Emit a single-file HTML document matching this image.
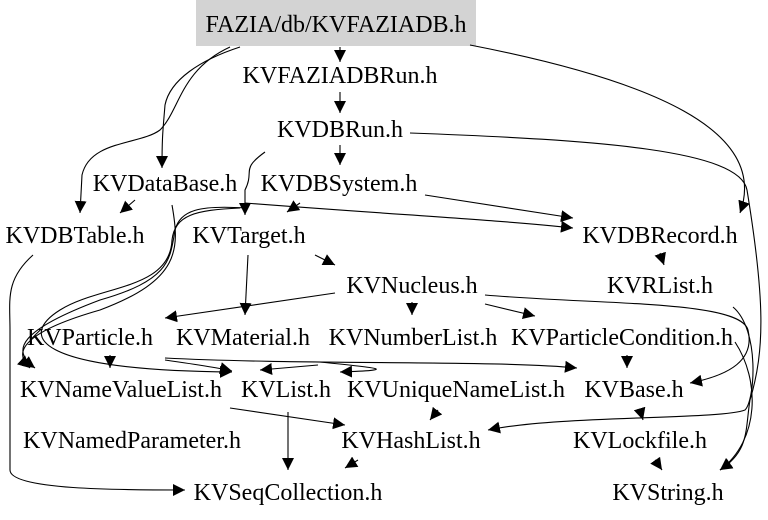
<!DOCTYPE html>
<html><head><meta charset="utf-8"><style>
html,body{margin:0;padding:0;background:#fff;}
svg{display:block;}
text{font-family:"Liberation Serif",serif;font-size:24px;fill:#000;text-anchor:middle;}
</style></head><body>
<svg width="768" height="520" viewBox="0 0 768 520" xmlns="http://www.w3.org/2000/svg">
<defs><marker id="a" viewBox="0 0 10 10" refX="10" refY="5" markerWidth="12" markerHeight="12" markerUnits="userSpaceOnUse" orient="auto"><path d="M0,0 L10,5 L0,10 z" fill="#000"/></marker></defs>
<rect x="196" y="0" width="280" height="46" fill="#d3d3d3"/>
<g fill="none" stroke="#000" stroke-width="1.1" marker-end="url(#a)">
<path d="M340,47 L340,62"/>
<path d="M240,47 C200,60 170,80 165,105 C163,130 162,135 162,168"/>
<path d="M230,47 C180,70 180,110 160,130 C140,145 90,140 82,175 L80,213"/>
<path d="M470,45 C650,80 770,130 740,213"/>
<path d="M340,92 L340,113"/>
<path d="M340,145 L340,165"/>
<path d="M265,152 C240,170 255,170 245,190 L245,215"/>
<path d="M410,133 C600,140 740,150 747,190 C765,300 765,350 750,400 C745,430 750,450 720,470"/>
<path d="M135,200 L120,213"/>
<path d="M300,203 L287,212"/>
<path d="M425,195 L573,218"/>
<path d="M245,203 C400,215 500,220 573,228"/>
<path d="M248,255 L245,315"/>
<path d="M315,255 L335,265"/>
<path d="M335,293 L165,318"/>
<path d="M412,302 L412,315"/>
<path d="M485,304 L535,316"/>
<path d="M485,295 C600,305 740,300 748,330 C755,360 730,375 690,383"/>
<path d="M733,307 C760,330 755,400 745,410 C720,420 560,415 488,430"/>
<path d="M627,355 L627,368"/>
<path d="M110,355 L110,368"/>
<path d="M165,360 C200,365 220,368 232,371"/>
<path d="M165,358 C300,365 500,360 577,368"/>
<path d="M318,365 L260,370"/>
<path d="M320,362 C380,368 400,370 340,372"/>
<path d="M230,408 L345,425"/>
<path d="M288,412 L288,470"/>
<path d="M438,410 L430,420"/>
<path d="M358,460 L345,468"/>
<path d="M640,410 L643,420"/>
<path d="M655,460 L662,470"/>
<path d="M33,255 C5,280 10,300 10,330 L10,470 C10,490 120,490 185,490"/>
<path d="M660,253 L664,265"/>
<path d="M735,342 C760,380 760,440 720,470"/>
<path d="M172,205 C180,250 180,280 100,310 C30,330 10,350 30,368"/>
<path d="M245,208 C200,205 180,210 175,230 C170,260 170,280 100,300 C20,330 10,350 35,368"/>
<path d="M240,208 C195,210 175,215 172,240 C170,290 100,285 60,310 C20,335 30,370 232,372"/>
</g>
<text x="336" y="32">FAZIA/db/KVFAZIADB.h</text>
<text x="340" y="83">KVFAZIADBRun.h</text>
<text x="340" y="137">KVDBRun.h</text>
<text x="165" y="191">KVDataBase.h</text>
<text x="339" y="191">KVDBSystem.h</text>
<text x="75" y="243">KVDBTable.h</text>
<text x="249" y="243">KVTarget.h</text>
<text x="660" y="243">KVDBRecord.h</text>
<text x="412" y="293">KVNucleus.h</text>
<text x="660" y="293">KVRList.h</text>
<text x="90" y="345">KVParticle.h</text>
<text x="243" y="345">KVMaterial.h</text>
<text x="413" y="345">KVNumberList.h</text>
<text x="622" y="345">KVParticleCondition.h</text>
<text x="121" y="397">KVNameValueList.h</text>
<text x="286" y="397">KVList.h</text>
<text x="456" y="397">KVUniqueNameList.h</text>
<text x="634" y="397">KVBase.h</text>
<text x="132" y="448">KVNamedParameter.h</text>
<text x="411" y="448">KVHashList.h</text>
<text x="640" y="448">KVLockfile.h</text>
<text x="288" y="500">KVSeqCollection.h</text>
<text x="668" y="500">KVString.h</text>
</svg>
</body></html>
